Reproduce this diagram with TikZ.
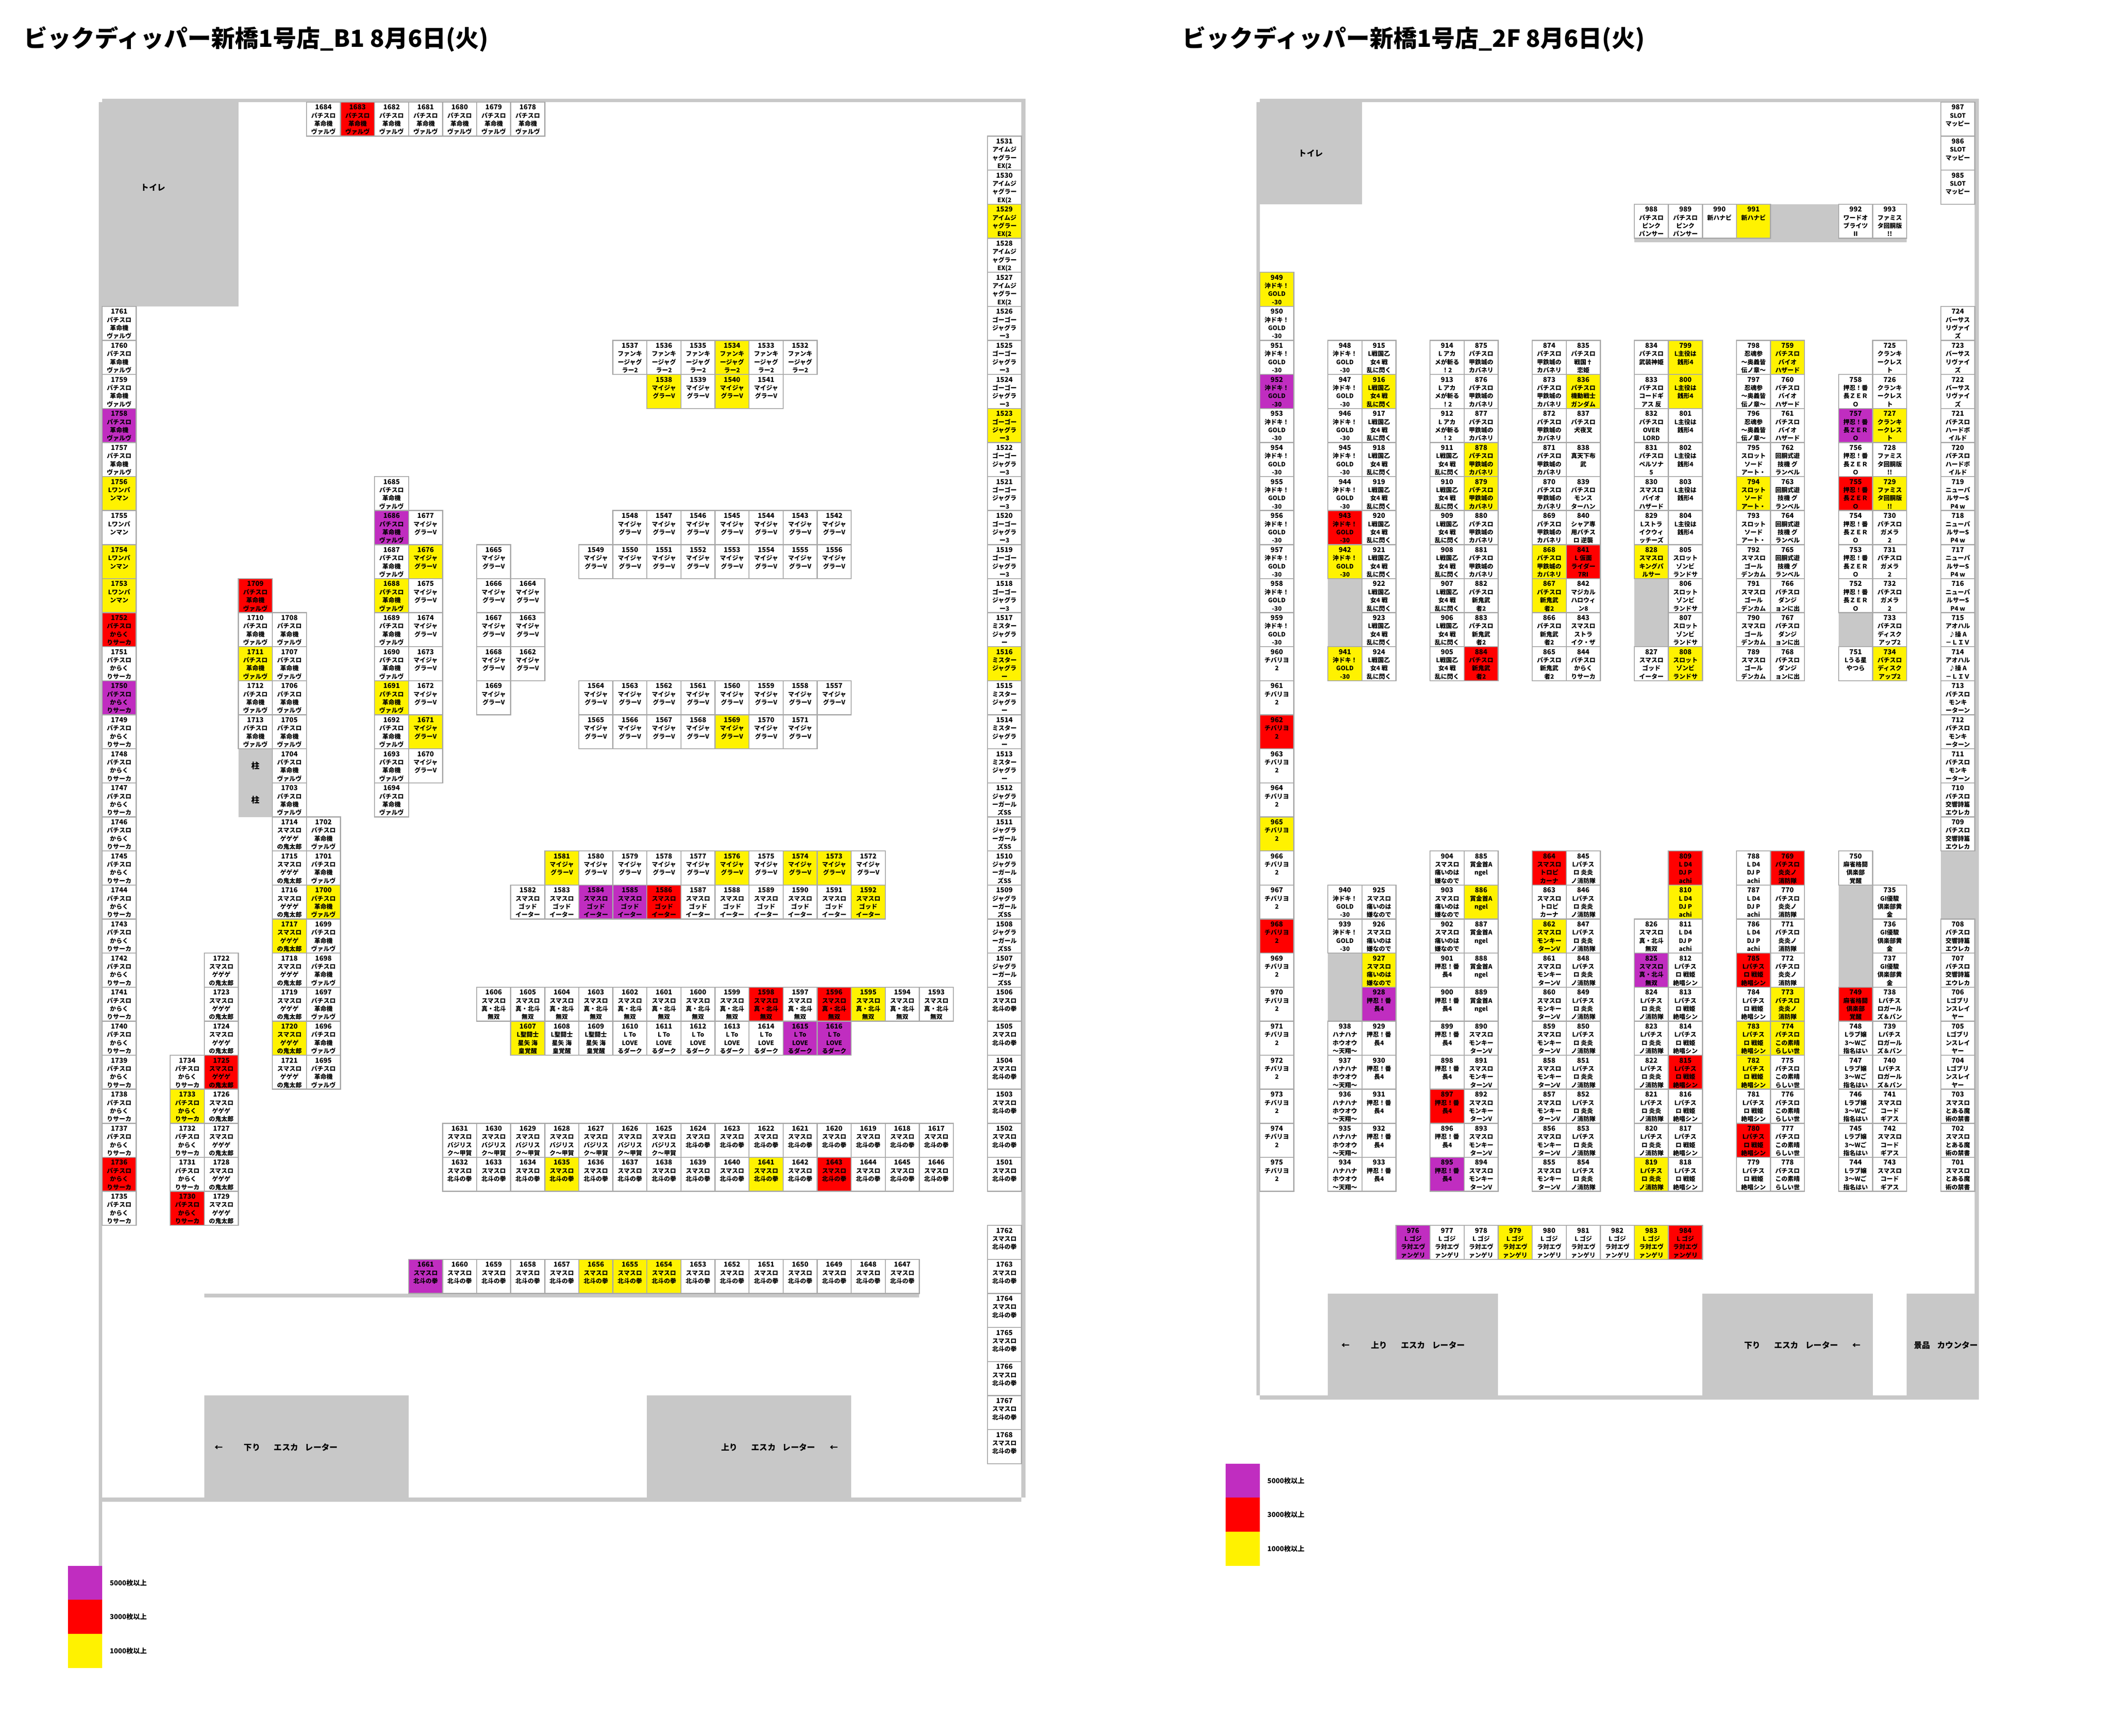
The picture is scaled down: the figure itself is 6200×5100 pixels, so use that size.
\documentclass[tikz,border=0pt]{standalone}
\usepackage{fontspec}
\setmainfont{Noto Sans CJK JP}
\definecolor{toneviolet}{HTML}{C02DC0}
\definecolor{tonered}{HTML}{FF0000}
\definecolor{toneyellow}{HTML}{FFF200}
\definecolor{wallgray}{HTML}{C8C8C8}
\definecolor{seatedge}{HTML}{A8A8A8}
\tikzset{
  every node/.style={font=\bfseries},
  seat/.style={draw=seatedge,line width=1.5pt,minimum width=50pt,minimum height=50pt,inner sep=0pt},
  wall/.style={fill=wallgray},
  floorlabel/.style={inner sep=0pt,font=\bfseries\fontsize{12}{14}\selectfont},
  legendlabel/.style={anchor=west,inner sep=0pt,font=\bfseries\fontsize{10}{12}\selectfont},
  floortitle/.style={anchor=west,inner sep=0pt,font=\bfseries\fontsize{34.7}{40}\selectfont},
}
% one seat: number, x, y, lines of text
\newcommand{\seatbox}[2]{\parbox[c][50pt][t]{50pt}{\centering\lineskiplimit=-2pt
  \fontsize{9}{12}\selectfont\rule{0pt}{11.15pt}{\fontsize{10}{12}\selectfont #1}\\#2}}
\newcommand{\seat}[4]{%
  \ifcsname tone#1\endcsname\edef\seatfill{\csname tone#1\endcsname}\else\edef\seatfill{white}\fi
  \node[seat,fill=\seatfill] (s#1) at ({#2+50},{#3+50}) {\seatbox{#1}{#4}};}
\newcommand{\seatrun}[7]{%
  \pgfmathtruncatemacro{\seatlast}{abs(#2-#1)}%
  \pgfmathtruncatemacro{\seatstep}{#2<#1 ? -1 : 1}%
  \foreach \k in {0,...,\seatlast}{%
    \pgfmathtruncatemacro{\n}{#1+\seatstep*\k}%
    \seat{\n}{#3+#5*\k}{#4+#6*\k}{#7}}}
\newcommand{\seatcol}[5]{\seatrun{#1}{#2}{#3}{#4}{0}{100}{#5}}
\newcommand{\seatrow}[5]{\seatrun{#1}{#2}{#3}{#4}{100}{0}{#5}}
\newcommand{\paint}[2]{\foreach \n in {#2}{\expandafter\gdef\csname tone\n\endcsname{#1}}}
% the escalator text
\newcommand{\esca}{エスカ\hspace{10pt}レーター}
% cells that are coloured
\paint{toneviolet}{1758,1750,1686,1584,1585,1615,1616,1661,952,757,928,895,825,976}
\paint{tonered}{1683,1752,1736,1709,1725,1730,1586,1598,1596,1643,943,962,968,884,841,755,897,864,809,815,785,780,769,749,984}
\paint{toneyellow}{1756,1754,1753,1711,1717,1720,1700,1733,1688,1691,1676,1671,1569,1534,1538,1540,1581,1576,1574,1573,1592,1595,1607,1635,1641,1656,1655,1654,1529,1523,1516,949,942,941,916,878,879,868,867,836,828,799,800,808,794,759,727,729,734,991,965,927,886,862,819,810,783,782,773,774,979,983}
% machine names, B1
\newcommand{\kakumei}{パチスロ\\革命機\\ヴァルヴ}
\newcommand{\karakuri}{パチスロ\\からく\\りサーカ}
\newcommand{\wanpan}{Lワンパ\\ンマン}
\newcommand{\gegege}{スマスロ\\ゲゲゲ\\の鬼太郎}
\newcommand{\myjug}{マイジャ\\グラーV}
\newcommand{\funky}{ファンキ\\ージャグ\\ラー2}
\newcommand{\godeat}{スマスロ\\ゴッド\\イーター}
\newcommand{\musou}{スマスロ\\真・北斗\\無双}
\newcommand{\seiya}{L聖闘士\\星矢 海\\皇覚醒}
\newcommand{\toloveru}{L To\\LOVE\\るダーク}
\newcommand{\basil}{スマスロ\\バジリス\\ク～甲賀}
\newcommand{\hokuto}{スマスロ\\北斗の拳}
\newcommand{\imjug}{アイムジ\\ャグラー\\EX(2}
\newcommand{\gogo}{ゴーゴー\\ジャグラ\\ー3}
\newcommand{\mister}{ミスター\\ジャグラ\\ー}
\newcommand{\girls}{ジャグラ\\ーガール\\ズSS}
% machine names, 2F
\newcommand{\okidoki}{沖ドキ！\\GOLD\\-30}
\newcommand{\chibariyo}{チバリヨ\\2}
\newcommand{\sengoku}{L戦国乙\\女4 戦\\乱に閃く}
\newcommand{\akame}{L アカ\\メが斬る\\！2}
\newcommand{\kabaneri}{パチスロ\\甲鉄城の\\カバネリ}
\newcommand{\onimusha}{パチスロ\\新鬼武\\者2}
\newcommand{\zenigata}{L主役は\\銭形4}
\newcommand{\zombie}{スロット\\ゾンビ\\ランドサ}
\newcommand{\shinobu}{忍魂参\\～奥義皆\\伝ノ章～}
\newcommand{\saoslot}{スロット\\ソード\\アート・}
\newcommand{\kamuy}{スマスロ\\ゴール\\デンカム}
\newcommand{\biohaz}{パチスロ\\バイオ\\ハザード}
\newcommand{\granbelm}{回胴式遊\\技機 グ\\ランベル}
\newcommand{\danmachi}{パチスロ\\ダンジ\\ョンに出}
\newcommand{\banzero}{押忍！番\\長ＺＥＲ\\Ｏ}
\newcommand{\crest}{クランキ\\ークレス\\ト}
\newcommand{\famista}{ファミス\\タ回胴版\\!!}
\newcommand{\gamera}{パチスロ\\ガメラ\\2}
\newcommand{\upup}{パチスロ\\ディスク\\アップ2}
\newcommand{\mappy}{SLOT\\マッピー}
\newcommand{\versus}{バーサス\\リヴァイ\\ズ}
\newcommand{\hardboil}{パチスロ\\ハードボ\\イルド}
\newcommand{\pulsar}{ニューパ\\ルサーS\\P4 w}
\newcommand{\aoharu}{アオハル\\♪操 A\\－ＬＩＶ}
\newcommand{\monkeyp}{パチスロ\\モンキ\\ーターン}
\newcommand{\eureka}{パチスロ\\交響詩篇\\エウレカ}
\newcommand{\goblin}{Lゴブリ\\ンスレイ\\ヤー}
\newcommand{\kinsho}{スマスロ\\とある魔\\術の禁書}
\newcommand{\pinkp}{パチスロ\\ピンク\\パンサー}
\newcommand{\hanabi}{新ハナビ}
\newcommand{\hanahana}{ハナハナ\\ホウオウ\\～天翔～}
\newcommand{\itai}{スマスロ\\痛いのは\\嫌なので}
\newcommand{\banchou}{押忍！番\\長4}
\newcommand{\bounty}{賞金首A\\ngel}
\newcommand{\monkey}{スマスロ\\モンキー\\ターンV}
\newcommand{\tropica}{スマスロ\\トロピ\\カーナ}
\newcommand{\enen}{Lパチス\\ロ 炎炎\\ノ消防隊}
\newcommand{\senki}{Lパチス\\ロ 戦姫\\絶唱シン}
\newcommand{\dfour}{L D4\\DJ P\\achi}
\newcommand{\enenp}{パチスロ\\炎炎ノ\\消防隊}
\newcommand{\konosuba}{パチスロ\\この素晴\\らしい世}
\newcommand{\mahjong}{麻雀格闘\\倶楽部\\覚醒}
\newcommand{\lovejo}{Lラブ嬢\\3～Wご\\指名はい}
\newcommand{\yushun}{GI優駿\\倶楽部黄\\金}
\newcommand{\garupan}{Lパチス\\ロガール\\ズ＆パン}
\newcommand{\geass}{スマスロ\\コード\\ギアス}
\newcommand{\gojira}{L ゴジ\\ラ対エヴ\\ァンゲリ}
\begin{document}
\begin{tikzpicture}[x=.5pt,y=-.5pt]
  \useasboundingbox (0,0) rectangle (6200,5100);
  % B1
  \node[floortitle] (titleb) at (70,115) {ビックディッパー新橋1号店\_B1 8月6日(火)};
  \fill[wall] (300,290) rectangle (3012,300);
  \fill[wall] (290,300) rectangle (300,4600);
  \fill[wall] (3000,300) rectangle (3012,4400);
  \fill[wall] (300,4400) rectangle (3000,4412);
  \fill[wall] (600,3800) rectangle (2700,3812);
  \fill[wall] (290,300) rectangle (700,900);
  \fill[wall] (700,2200) rectangle (800,2400);
  \fill[wall] (600,4100) rectangle (1200,4400);
  \fill[wall] (1900,4100) rectangle (2500,4400);
  \node[floorlabel] (toiletb) at (450,551) {トイレ};
  \node[floorlabel] (pillara) at (750,2250) {柱};
  \node[floorlabel] (pillarb) at (750,2350) {柱};
  \node[floorlabel,anchor=west] (downb) at (630,4252) {←\hspace{31pt}下り\hspace{20pt}\esca};
  \node[floorlabel,anchor=east] (upb) at (2461,4252) {上り\hspace{20pt}\esca\hspace{21pt}←};
  \seatrow{1684}{1678}{900}{300}{\kakumei}
  \seatcol{1761}{1757}{300}{900}{\kakumei}
  \seatcol{1756}{1753}{300}{1400}{\wanpan}
  \seatcol{1752}{1735}{300}{1800}{\karakuri}
  \seatcol{1709}{1713}{700}{1700}{\kakumei}
  \seatcol{1708}{1703}{800}{1800}{\kakumei}
  \seatcol{1714}{1721}{800}{2400}{\gegege}
  \seatcol{1702}{1695}{900}{2400}{\kakumei}
  \seatcol{1722}{1729}{600}{2800}{\gegege}
  \seatcol{1734}{1730}{500}{3100}{\karakuri}
  \seatcol{1685}{1694}{1100}{1400}{\kakumei}
  \seatcol{1677}{1670}{1200}{1500}{\myjug}
  \seatcol{1665}{1669}{1400}{1600}{\myjug}
  \seatcol{1664}{1662}{1500}{1700}{\myjug}
  \seatrow{1537}{1532}{1800}{1000}{\funky}
  \seatrow{1538}{1541}{1900}{1100}{\myjug}
  \seatrow{1548}{1542}{1800}{1500}{\myjug}
  \seatrow{1549}{1556}{1700}{1600}{\myjug}
  \seatrow{1564}{1557}{1700}{2000}{\myjug}
  \seatrow{1565}{1571}{1700}{2100}{\myjug}
  \seatrow{1581}{1572}{1600}{2500}{\myjug}
  \seatrow{1582}{1592}{1500}{2600}{\godeat}
  \seatrow{1606}{1593}{1400}{2900}{\musou}
  \seatrow{1607}{1609}{1500}{3000}{\seiya}
  \seatrow{1610}{1616}{1800}{3000}{\toloveru}
  \seatrow{1631}{1625}{1300}{3300}{\basil}
  \seatrow{1624}{1617}{2000}{3300}{\hokuto}
  \seatrow{1632}{1646}{1300}{3400}{\hokuto}
  \seatrow{1661}{1647}{1200}{3700}{\hokuto}
  \seatcol{1531}{1527}{2900}{400}{\imjug}
  \seatcol{1526}{1518}{2900}{900}{\gogo}
  \seatcol{1517}{1513}{2900}{1800}{\mister}
  \seatcol{1512}{1507}{2900}{2300}{\girls}
  \seatcol{1506}{1501}{2900}{2900}{\hokuto}
  \seatcol{1762}{1768}{2900}{3600}{\hokuto}
  \fill[toneviolet] (200,4600) rectangle (300,4700);
  \fill[tonered] (200,4700) rectangle (300,4800);
  \fill[toneyellow] (200,4800) rectangle (300,4900);
  \node[legendlabel] (legendba) at (322,4650) {5000枚以上};
  \node[legendlabel] (legendbb) at (322,4750) {3000枚以上};
  \node[legendlabel] (legendbc) at (322,4850) {1000枚以上};
  % 2F
  \node[floortitle] (titlef) at (3472,115) {ビックディッパー新橋1号店\_2F 8月6日(火)};
  \fill[wall] (3700,290) rectangle (5812,300);
  \fill[wall] (3690,300) rectangle (3700,4100);
  \fill[wall] (5800,300) rectangle (5812,4112);
  \fill[wall] (3700,4100) rectangle (5800,4112);
  \fill[wall] (3700,300) rectangle (4000,600);
  \fill[wall] (4800,700) rectangle (5600,712);
  \fill[wall] (5200,600) rectangle (5400,700);
  \fill[wall] (3900,1700) rectangle (4000,1900);
  \fill[wall] (4800,1700) rectangle (4900,1900);
  \fill[wall] (5400,1800) rectangle (5500,1900);
  \fill[wall] (3900,2800) rectangle (4000,3000);
  \fill[wall] (5400,2600) rectangle (5500,2900);
  \fill[wall] (5700,2500) rectangle (5800,2700);
  \fill[wall] (3900,3800) rectangle (4400,4100);
  \fill[wall] (5000,3800) rectangle (5500,4100);
  \fill[wall] (5600,3800) rectangle (5800,4100);
  \node[floorlabel] (toiletf) at (3850,450) {トイレ};
  \node[floorlabel,anchor=west] (upf) at (3940,3952) {←\hspace{31pt}上り\hspace{20pt}\esca};
  \node[floorlabel,anchor=east] (downf) at (5465,3952) {下り\hspace{20pt}\esca\hspace{21pt}←};
  \node[floorlabel,anchor=east] (counter) at (5810,3952) {景品\hspace{10pt}カウンター};
  \seatrow{988}{989}{4800}{600}{\pinkp}
  \seatrow{990}{991}{5000}{600}{\hanabi}
  \seat{992}{5400}{600}{ワードオ\\ブライツ\\II}
  \seat{993}{5500}{600}{\famista}
  \seatcol{949}{959}{3700}{800}{\okidoki}
  \seatcol{960}{975}{3700}{1900}{\chibariyo}
  \seatcol{948}{942}{3900}{1000}{\okidoki}
  \seat{941}{3900}{1900}{\okidoki}
  \seatcol{915}{924}{4000}{1000}{\sengoku}
  \seatcol{914}{912}{4200}{1000}{\akame}
  \seatcol{911}{905}{4200}{1300}{\sengoku}
  \seatcol{875}{881}{4300}{1000}{\kabaneri}
  \seatcol{882}{884}{4300}{1700}{\onimusha}
  \seatcol{874}{868}{4500}{1000}{\kabaneri}
  \seatcol{867}{865}{4500}{1700}{\onimusha}
  \seat{835}{4600}{1000}{パチスロ\\戦国†\\恋姫}
  \seat{836}{4600}{1100}{パチスロ\\機動戦士\\ガンダム}
  \seat{837}{4600}{1200}{パチスロ\\犬夜叉}
  \seat{838}{4600}{1300}{真天下布\\武}
  \seat{839}{4600}{1400}{パチスロ\\モンス\\ターハン}
  \seat{840}{4600}{1500}{シャア専\\用パチス\\ロ 逆襲}
  \seat{841}{4600}{1600}{L 仮面\\ライダー\\7RI}
  \seat{842}{4600}{1700}{マジカル\\ハロウィ\\ン8}
  \seat{843}{4600}{1800}{スマスロ\\ストラ\\イク・ザ}
  \seat{844}{4600}{1900}{\karakuri}
  \seat{834}{4800}{1000}{パチスロ\\武装神姫}
  \seat{833}{4800}{1100}{パチスロ\\コードギ\\アス 反}
  \seat{832}{4800}{1200}{パチスロ\\OVER\\LORD}
  \seat{831}{4800}{1300}{パチスロ\\ペルソナ\\5}
  \seat{830}{4800}{1400}{スマスロ\\バイオ\\ハザード}
  \seat{829}{4800}{1500}{Lストラ\\イクウィ\\ッチーズ}
  \seat{828}{4800}{1600}{スマスロ\\キングパ\\ルサー}
  \seat{827}{4800}{1900}{\godeat}
  \seatcol{799}{804}{4900}{1000}{\zenigata}
  \seatcol{805}{808}{4900}{1600}{\zombie}
  \seatcol{798}{796}{5100}{1000}{\shinobu}
  \seatcol{795}{793}{5100}{1300}{\saoslot}
  \seatcol{792}{789}{5100}{1600}{\kamuy}
  \seatcol{759}{761}{5200}{1000}{\biohaz}
  \seatcol{762}{765}{5200}{1300}{\granbelm}
  \seatcol{766}{768}{5200}{1700}{\danmachi}
  \seatcol{758}{752}{5400}{1100}{\banzero}
  \seat{751}{5400}{1900}{Lうる星\\やつら}
  \seatcol{725}{727}{5500}{1000}{\crest}
  \seatcol{728}{729}{5500}{1300}{\famista}
  \seatcol{730}{732}{5500}{1500}{\gamera}
  \seatcol{733}{734}{5500}{1800}{\upup}
  \seatcol{987}{985}{5700}{300}{\mappy}
  \seatcol{724}{722}{5700}{900}{\versus}
  \seatcol{721}{720}{5700}{1200}{\hardboil}
  \seatcol{719}{716}{5700}{1400}{\pulsar}
  \seatcol{715}{714}{5700}{1800}{\aoharu}
  \seatcol{713}{711}{5700}{2000}{\monkeyp}
  \seatcol{710}{709}{5700}{2300}{\eureka}
  \seatcol{708}{707}{5700}{2700}{\eureka}
  \seatcol{706}{704}{5700}{2900}{\goblin}
  \seatcol{703}{701}{5700}{3200}{\kinsho}
  \seatcol{940}{939}{3900}{2600}{\okidoki}
  \seatcol{938}{934}{3900}{3000}{\hanahana}
  \seatcol{925}{927}{4000}{2600}{\itai}
  \seatcol{928}{933}{4000}{2900}{\banchou}
  \seatcol{904}{902}{4200}{2500}{\itai}
  \seatcol{901}{895}{4200}{2800}{\banchou}
  \seatcol{885}{889}{4300}{2500}{\bounty}
  \seatcol{890}{894}{4300}{3000}{\monkey}
  \seatcol{864}{863}{4500}{2500}{\tropica}
  \seatcol{862}{855}{4500}{2700}{\monkey}
  \seatcol{845}{854}{4600}{2500}{\enen}
  \seatcol{826}{825}{4800}{2700}{\musou}
  \seatcol{824}{819}{4800}{2900}{\enen}
  \seatcol{809}{811}{4900}{2500}{\dfour}
  \seatcol{812}{818}{4900}{2800}{\senki}
  \seatcol{788}{786}{5100}{2500}{\dfour}
  \seatcol{785}{779}{5100}{2800}{\senki}
  \seatcol{769}{773}{5200}{2500}{\enenp}
  \seatcol{774}{778}{5200}{3000}{\konosuba}
  \seat{750}{5400}{2500}{\mahjong}
  \seat{749}{5400}{2900}{\mahjong}
  \seatcol{748}{744}{5400}{3000}{\lovejo}
  \seatcol{735}{737}{5500}{2600}{\yushun}
  \seatcol{738}{740}{5500}{2900}{\garupan}
  \seatcol{741}{743}{5500}{3200}{\geass}
  \seatrow{976}{984}{4100}{3600}{\gojira}
  \fill[toneviolet] (3600,4300) rectangle (3700,4400);
  \fill[tonered] (3600,4400) rectangle (3700,4500);
  \fill[toneyellow] (3600,4500) rectangle (3700,4600);
  \node[legendlabel] (legendfa) at (3722,4350) {5000枚以上};
  \node[legendlabel] (legendfb) at (3722,4450) {3000枚以上};
  \node[legendlabel] (legendfc) at (3722,4550) {1000枚以上};
\end{tikzpicture}
\end{document}
